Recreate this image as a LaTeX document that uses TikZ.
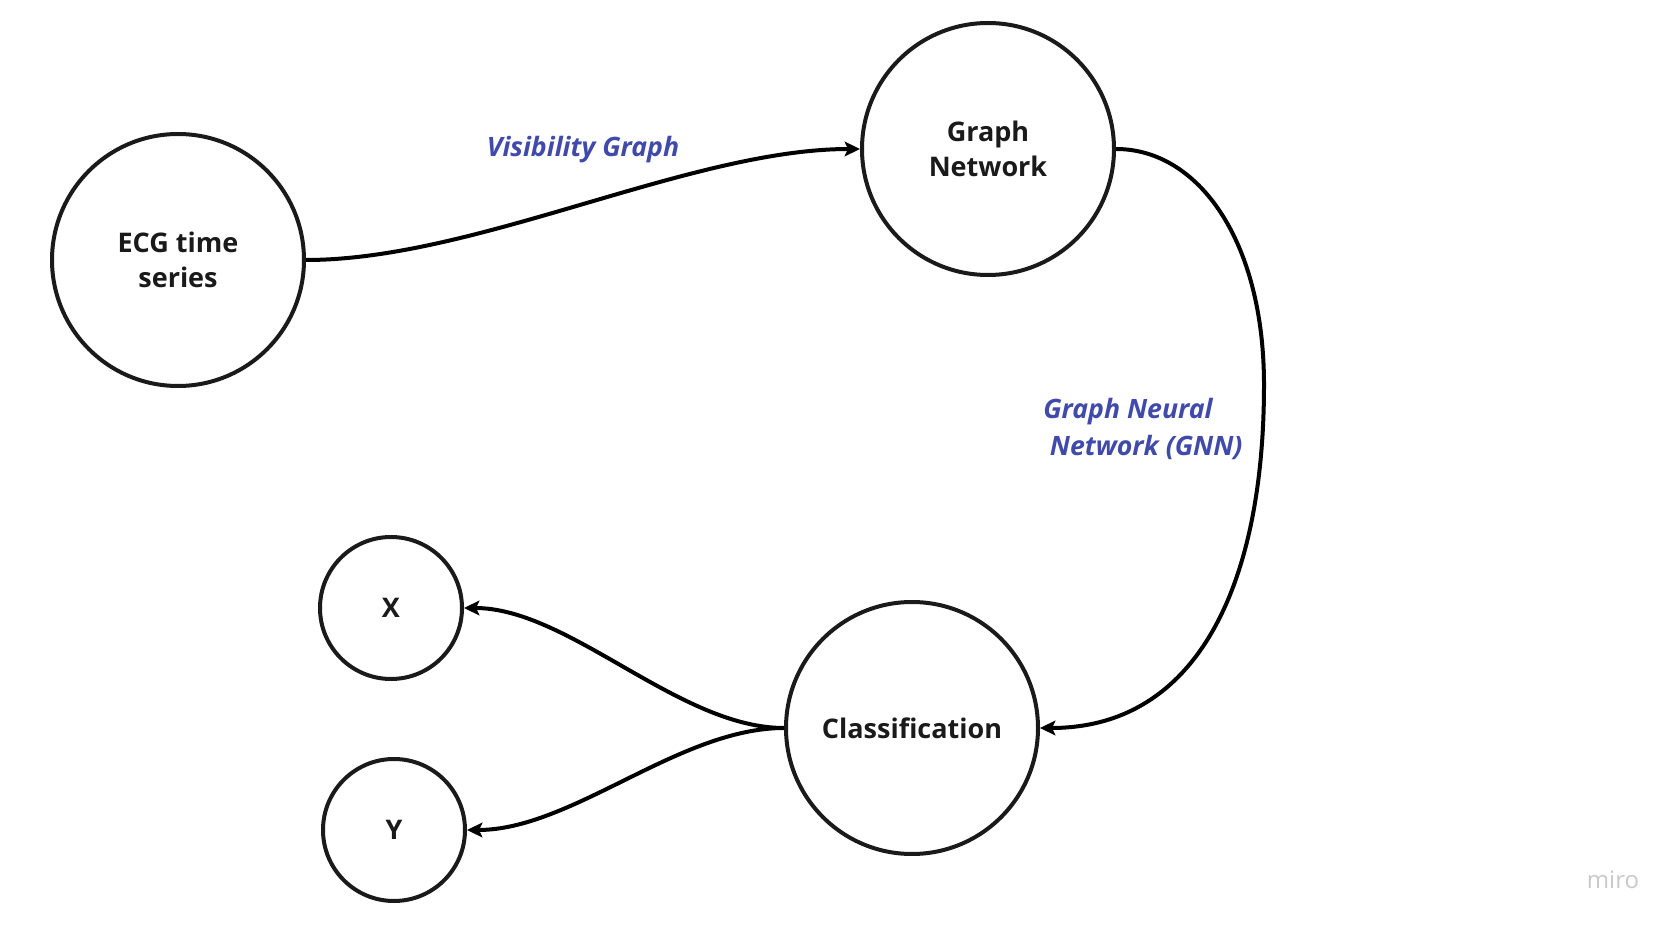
\documentclass[tikz,border=0pt]{standalone}
\usepackage{fontspec}
\setmainfont{Open Sans}
\usetikzlibrary{arrows.meta}
\definecolor{lblue}{RGB}{64,74,170}
\definecolor{ink}{RGB}{26,26,26}
\definecolor{mirogray}{RGB}{200,200,208}
\tikzset{
  x=0.75pt, y=-0.75pt,
  bubble/.style={circle, draw=ink, line width=3pt, fill=white, inner sep=0pt,
    align=center, font=\fontsize{20.25}{26.5}\selectfont\bfseries, text=ink},
  big/.style={bubble, minimum size=189pt},
  small/.style={bubble, minimum size=106.5pt},
  conn/.style={line width=3pt, draw=black},
  arr/.style={conn, -{Stealth[length=11.5pt, width=11pt, inset=2.5pt]}},
  lbl/.style={text=lblue, font=\fontsize{20}{28}\selectfont\bfseries\itshape, inner sep=0pt}
}
\begin{document}
\begin{tikzpicture}
\useasboundingbox[fill=white] (0,0) rectangle (1679,930);
\node[big] (ecg) at (178,260) {ECG time\\series};
\node[big] (gn) at (988,149) {Graph\\Network};
\node[big] (cl) at (912,728) {Classification};
\node[small] (x) at (391,608) {X};
\node[small] (y) at (394,830) {Y};
\coordinate (bend) at (1264,385);
\draw[arr] (ecg.east) .. controls +(170,0) and +(-170,0) .. (gn.west);
\draw[conn] (gn.east) .. controls (1198,149) and (1264,240) .. (bend);
\draw[arr] (bend) .. controls (1264,580) and (1200,728) .. (cl.east);
\draw[arr] (cl.west) .. controls +(-105,0) and +(105,0) .. (x.east);
\draw[arr] (cl.west) .. controls +(-105,0) and +(105,0) .. (y.east);
\node[lbl] (vg) at (583,150) {Visibility Graph};
\node[lbl, anchor=west, align=left] (gnn) at (1043,429) {Graph Neural\\\hspace*{5pt}Network (GNN)};
\node[text=mirogray, font=\fontsize{18}{20}\selectfont, inner sep=0pt] (miro) at (1613,880) {miro};
\end{tikzpicture}
\end{document}
